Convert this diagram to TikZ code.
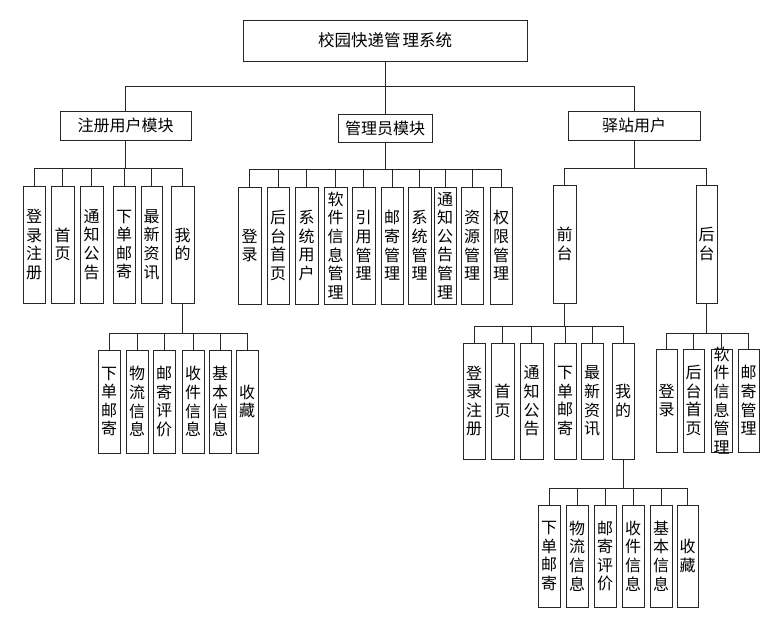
\documentclass[tikz,border=0pt]{standalone}
\usepackage{fontspec}
\setmainfont{Noto Sans CJK SC}
\tikzset{
  bx/.style={draw=black!85, line width=0.9pt, fill=white, inner sep=0pt, align=center,
    font=\fontsize{16}{18.6}\selectfont},
  ln/.style={draw=black!85, line width=0.9pt},
  vtext/.style={inner sep=0pt, align=center, font=\fontsize{16}{18.6}\selectfont},
}
\newcommand\mybox[6][]{\node[bx, minimum width={#5-#3}, minimum height={#6-#4}, #1] (#2) at ({(#3+#5)/2},{-(#4+#6)/2})}
% #1 parent, #2 bus y, #3 first child, #4 last child, #5 all children
\newcommand\bus[5]{%
  \coordinate (bus#1) at (0,-#2);
  \draw[ln] (#1.south) -- (#1.south |- bus#1);
  \draw[ln] (#3.north |- bus#1) -- (#4.north |- bus#1);
  \foreach \c in {#5} {\draw[ln] (\c.north) -- (\c.north |- bus#1);}
}
\begin{document}
\begin{tikzpicture}[x=1pt,y=1pt]
\useasboundingbox (0,0) rectangle (776,-623);
% root
\mybox[font=\fontsize{16.5}{18}\selectfont]{root}{243}{20}{527}{61} {校园快递管\hspace{2pt}理系统};
% level 1
\mybox{zc}{60}{111}{191}{140} {注册用户模块};
\mybox{gl}{338}{114}{432}{142} {管理员模块};
\mybox{yz}{568}{111}{700}{140} {驿站用户};
% 注册用户模块 children
\mybox{a1}{23}{186}{45}{303} {登\\录\\注\\册};
\mybox{a2}{51}{186}{74}{303} {首\\页};
\mybox{a3}{80}{186}{103}{303} {通\\知\\公\\告};
\mybox{a4}{113}{186}{135}{303} {下\\单\\邮\\寄};
\mybox{a5}{141}{186}{162}{303} {最\\新\\资\\讯};
\mybox{a6}{171}{186}{194}{303} {我\\的};
% 管理员模块 children
\mybox{b1}{238}{187}{261}{304} {登\\录};
\mybox{b2}{267}{187}{289}{304} {后\\台\\首\\页};
\mybox{b3}{295}{187}{318}{304} {系\\统\\用\\户};
\mybox{b4}{324}{187}{347}{304} {软\\件\\信\\息\\管\\理};
\mybox{b5}{352}{187}{375}{304} {引\\用\\管\\理};
\mybox{b6}{381}{187}{403}{304} {邮\\寄\\管\\理};
\mybox{b7}{408}{187}{431}{304} {系\\统\\管\\理};
\mybox{b8}{434}{187}{456}{304} {通\\知\\公\\告\\管\\理};
\mybox{b9}{461}{187}{483}{304} {资\\源\\管\\理};
\mybox{b10}{490}{187}{512}{304} {权\\限\\管\\理};
% 驿站用户 children
\mybox{c1}{553}{185}{576}{303} {前\\台};
\mybox{c2}{696}{185}{717}{303} {后\\台};
% 注册 我的 children
\mybox{d1}{98}{350}{120}{453} {下\\单\\邮\\寄};
\mybox{d2}{126}{350}{148}{453} {物\\流\\信\\息};
\mybox{d3}{153}{350}{175}{453} {邮\\寄\\评\\价};
\mybox{d4}{182}{350}{204}{453} {收\\件\\信\\息};
\mybox{d5}{209}{350}{231}{453} {基\\本\\信\\息};
\mybox{d6}{236}{350}{258}{453} {收\\藏};
% 前台 children
\mybox{e1}{463}{343}{485}{459} {登\\录\\注\\册};
\mybox{e2}{491}{343}{514}{459} {首\\页};
\mybox{e3}{520}{343}{543}{459} {通\\知\\公\\告};
\mybox{e4}{554}{343}{576}{459} {下\\单\\邮\\寄};
\mybox{e5}{581}{343}{603}{459} {最\\新\\资\\讯};
\mybox{e6}{612}{343}{634}{459} {我\\的};
% 前台 我的 children
\mybox{f1}{538}{505}{560}{607} {下\\单\\邮\\寄};
\mybox{f2}{566}{505}{588}{607} {物\\流\\信\\息};
\mybox{f3}{594}{505}{616}{607} {邮\\寄\\评\\价};
\mybox{f4}{622}{505}{644}{607} {收\\件\\信\\息};
\mybox{f5}{650}{505}{672}{607} {基\\本\\信\\息};
\mybox{f6}{677}{505}{698}{607} {收\\藏};
% 后台 children
\mybox{g1}{656}{349}{677}{452} {登\\录};
\mybox{g2}{683}{349}{704}{452} {后\\台\\首\\页};
\mybox{g3}{711}{349}{732}{452} {};
\node[vtext] (g3t) at (g3.center) {软\\件\\信\\息\\管\\理};
\mybox{g4}{738}{349}{759}{452} {邮\\寄\\管\\理};
% connectors
\bus{root}{86}{zc}{yz}{zc,gl,yz}
\bus{zc}{168}{a1}{a6}{a1,a2,a3,a4,a5,a6}
\bus{gl}{169}{b1}{b10}{b1,b2,b3,b4,b5,b6,b7,b8,b9,b10}
\bus{yz}{168}{c1}{c2}{c1,c2}
\bus{a6}{333}{d1}{d6}{d1,d2,d3,d4,d5,d6}
\bus{c1}{326}{e1}{e6}{e1,e2,e3,e4,e5,e6}
\bus{e6}{488}{f1}{f6}{f1,f2,f3,f4,f5,f6}
\bus{c2}{333}{g1}{g4}{g1,g2,g3,g4}
\end{tikzpicture}
\end{document}
